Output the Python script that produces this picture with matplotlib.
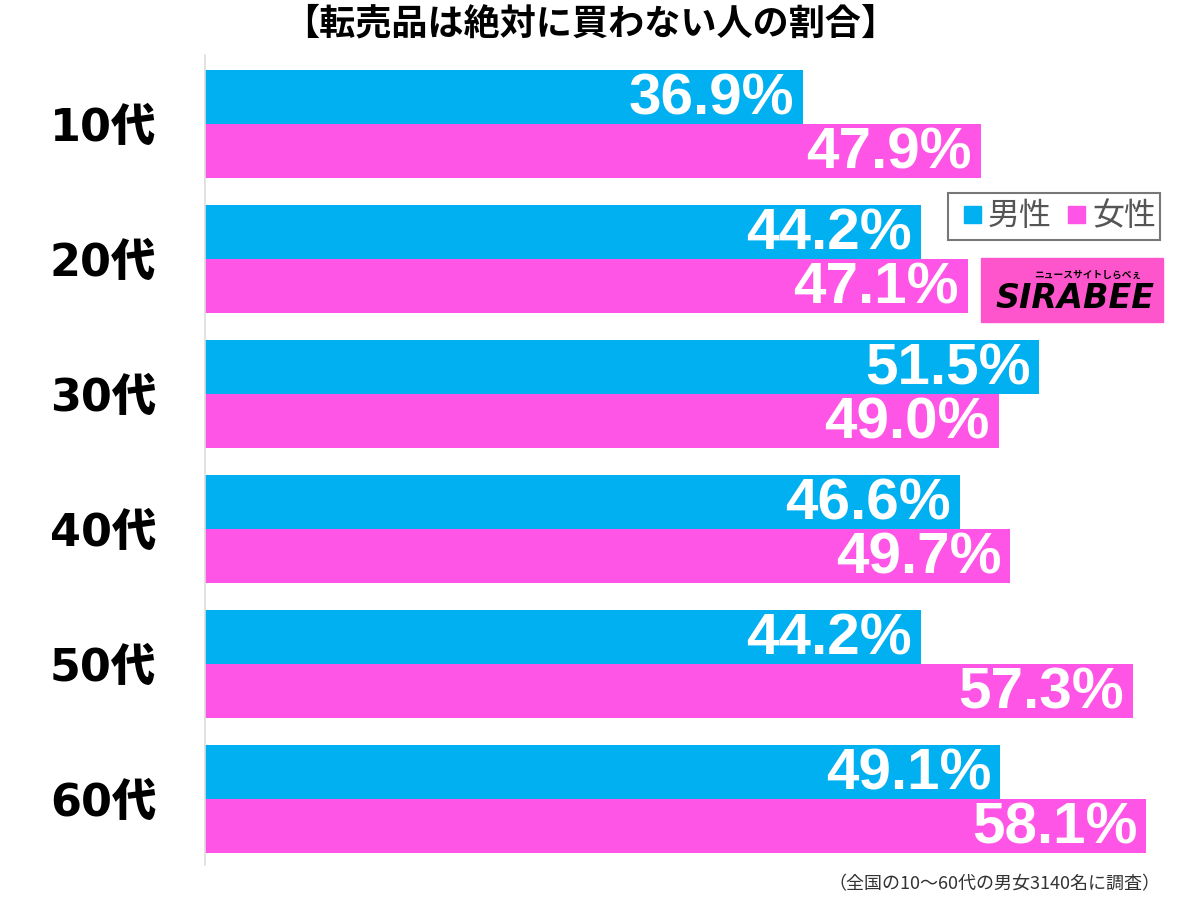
import matplotlib.pyplot as plt
from matplotlib.patches import Rectangle

plt.rcParams['font.family'] = ['Noto Sans CJK JP', 'DejaVu Sans']

ages = ["10代", "20代", "30代", "40代", "50代", "60代"]
male = [36.9, 44.2, 51.5, 46.6, 44.2, 49.1]
female = [47.9, 47.1, 49.0, 49.7, 57.3, 58.1]
legend_labels = ["男性", "女性"]
title = "【転売品は絶対に買わない人の割合】"
note = "（全国の10〜60代の男女3140名に調査）"

blue = "#00B0F0"
pink = "#FF55E6"

W, H = 1200, 897
fig = plt.figure(figsize=(W / 100, H / 100), dpi=100)
ax = fig.add_axes([205 / W, (H - 865) / H, 995 / W, 810 / H])

bh = 0.4
ys = list(range(len(ages)))
ax.barh([y - bh / 2 for y in ys], male, height=bh, color=blue)
ax.barh([y + bh / 2 for y in ys], female, height=bh, color=pink)

for y, m, f in zip(ys, male, female):
    for val, yy in ((m, y - bh / 2), (f, y + bh / 2)):
        ax.text(val - 0.55, yy + 0.02, f"{val:.1f}%", ha="right", va="center",
                color="white", fontsize=42, fontweight="bold",
                family=["Liberation Sans", "DejaVu Sans"])

ax.set_xlim(0, 995 / 16.2)
ax.set_ylim(5.489, -0.511)
ax.set_yticks(ys)
ax.set_yticklabels(ages, fontsize=32, fontweight="heavy",
                   family=["DejaVu Sans", "Noto Sans CJK JP"])
ax.tick_params(axis="y", length=0, pad=35)
ax.tick_params(axis="x", bottom=False, labelbottom=False)
for s in ("top", "right", "bottom"):
    ax.spines[s].set_visible(False)
ax.spines["left"].set_color("#dddddd")
ax.spines["left"].set_linewidth(1.2)

fig.text(590 / W, 1 - 24 / H, title, ha="center", va="center",
         fontsize=26, fontweight="bold")
fig.text(1160 / W, 1 - 884 / H, note, ha="right", va="center",
         fontsize=13, color="#333333")

# legend box
fig.patches.append(Rectangle((948 / W, 1 - 240 / H), 212 / W, 47 / H,
                             transform=fig.transFigure, fill=False,
                             edgecolor="#777777", linewidth=1.5))
for x0, c, lab in ((964, blue, legend_labels[0]), (1068, pink, legend_labels[1])):
    fig.patches.append(Rectangle((x0 / W, 1 - 223 / H), 17 / W, 17 / H,
                                 transform=fig.transFigure, color=c))
    fig.text((x0 + 24) / W, 1 - 216 / H, lab, ha="left", va="center",
             fontsize=23, color="#555555")

# sirabee logo
fig.patches.append(Rectangle((981 / W, 1 - 322 / H), 182 / W, 64 / H,
                             transform=fig.transFigure, color="#FF55CC"))
fig.text(1075 / W, 1 - 298 / H, "SIRABEE", ha="center", va="center",
         fontsize=24, fontweight="heavy", style="italic", color="black",
         family=["DejaVu Sans"])
fig.text(1088 / W, 1 - 275 / H, "ニュースサイトしらべぇ", ha="center", va="center",
         fontsize=7, fontweight="bold", color="black")

fig.savefig("out.png", dpi=100)
